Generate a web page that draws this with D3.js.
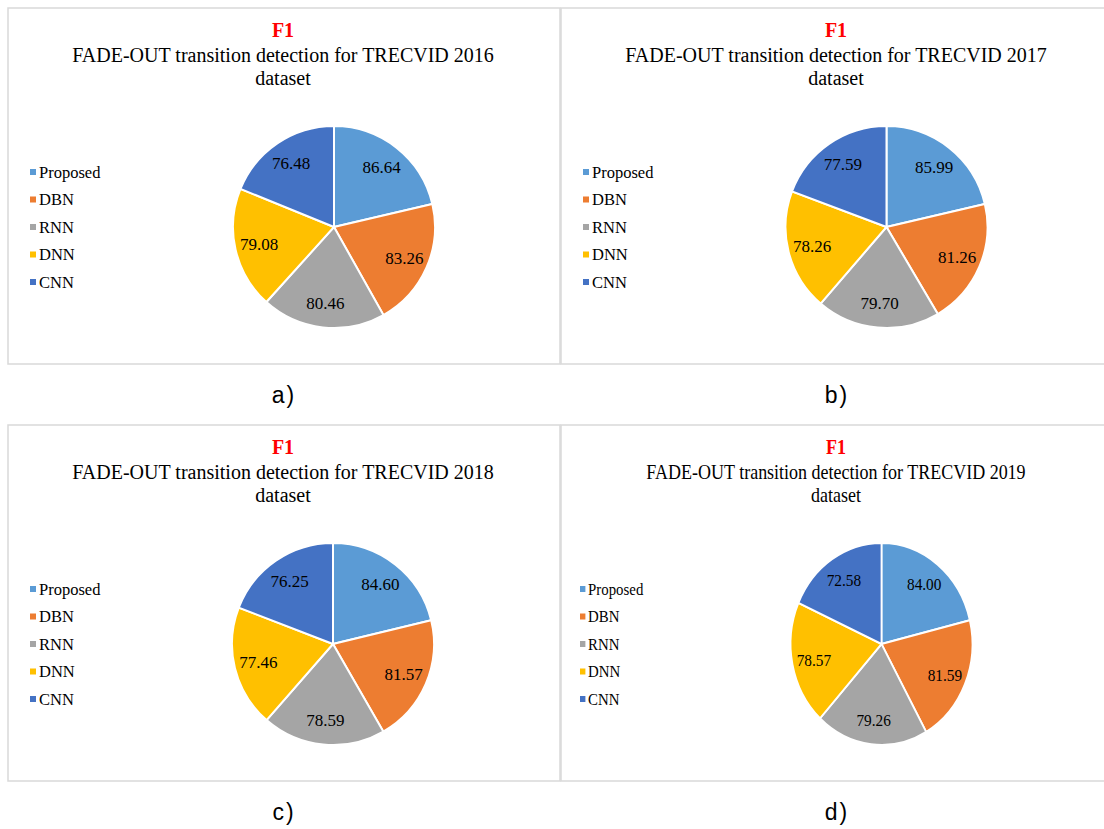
<!DOCTYPE html>
<html>
<head>
<meta charset="utf-8">
<script src="https://cdn.jsdelivr.net/npm/d3@7"></script>
<style>
  body { margin: 0; background: #fff; }
  svg { display: block; }
</style>
</head>
<body>
<div id="vis"></div>
<script>
// chart data
const CATEGORIES = ["Proposed", "DBN", "RNN", "DNN", "CNN"];
const YEARS = ["2016", "2017", "2018", "2019"];
const TAGS = ["a)", "b)", "c)", "d)"];
const F1_2016 = [86.64, 83.26, 80.46, 79.08, 76.48];
const F1_2017 = [85.99, 81.26, 79.70, 78.26, 77.59];
const F1_2018 = [84.60, 81.57, 78.59, 77.46, 76.25];
const F1_2019 = [84.00, 81.59, 79.26, 78.57, 72.58];
const SERIES = [F1_2016, F1_2017, F1_2018, F1_2019];

const WIDTH = 1104;
const HEIGHT = 829;
const PANEL_W = 552;
const PANEL_H = 356;
const RADIUS = 101;

const SERIF = "'Liberation Serif', 'Times New Roman', serif";
const SANS = "'Liberation Sans', Arial, sans-serif";

// panel boxes (left, top), horizontal squeeze for the last one
const PANELS = [
  {x: 8,   y: 8,   sx: 1,   pieX: 326},
  {x: 561, y: 8,   sx: 1,   pieX: 325.5},
  {x: 8,   y: 425, sx: 1,   pieX: 325},
  {x: 561, y: 425, sx: 0.9, pieX: 320.5}
];

const color = d3.scaleOrdinal()
  .domain(CATEGORIES)
  .range(["#5b9bd5", "#ed7d31", "#a5a5a5", "#ffc000", "#4472c4"]);

const fmt = d3.format(".2f");

const svg = d3.select("#vis")
  .append("svg")
    .attr("width", WIDTH)
    .attr("height", HEIGHT);

const pie = d3.pie().sort(null).value((d) => d.value);
const arc = d3.arc().innerRadius(0).outerRadius(RADIUS);
const labelArc = d3.arc().innerRadius(RADIUS * 0.76).outerRadius(RADIUS * 0.76);

PANELS.forEach((p, i) => {
  const data = CATEGORIES.map((c, k) => ({name: c, value: SERIES[i][k]}));
  const g = svg.append("g").attr("transform", `translate(${p.x},${p.y})`);

  // frame
  g.append("rect")
    .attr("x", 0).attr("y", 0)
    .attr("width", PANEL_W).attr("height", PANEL_H)
    .attr("fill", "none")
    .attr("stroke", "#d9d9d9")
    .attr("stroke-width", 1.5);

  // titles
  const tg = g.append("g")
    .attr("transform", `translate(${PANEL_W / 2 - 1},0) scale(${p.sx},1)`)
    .attr("text-anchor", "middle")
    .attr("font-family", SERIF);
  tg.append("text")
    .attr("y", 29)
    .attr("font-size", 20).attr("font-weight", "bold")
    .attr("fill", "#ff0000")
    .text("F1");
  tg.append("text")
    .attr("y", 54)
    .attr("font-size", 20).attr("fill", "#000")
    .text("FADE-OUT transition detection for TRECVID " + YEARS[i]);
  tg.append("text")
    .attr("y", 77)
    .attr("font-size", 20).attr("fill", "#000")
    .text("dataset");

  // pie
  const cy = 219;
  const pg = g.append("g")
    .attr("transform", `translate(${p.pieX},${cy}) scale(${p.sx},1)`);

  pg.selectAll("path.slice")
    .data(pie(data))
    .enter()
    .append("path")
      .attr("class", "slice")
      .attr("d", arc)
      .attr("fill", (d) => color(d.data.name))
      .attr("stroke", "#fff")
      .attr("stroke-width", 2);

  pg.selectAll("text.lbl")
    .data(pie(data))
    .enter()
    .append("text")
      .attr("class", "lbl")
      .attr("transform", (d) => `translate(${labelArc.centroid(d)})`)
      .attr("text-anchor", "middle")
      .attr("dy", "0.35em")
      .attr("font-family", SERIF)
      .attr("font-size", 17)
      .attr("fill", "#000")
      .text((d) => fmt(d.data.value));

  // legend
  const ly = d3.scalePoint().domain(CATEGORIES).range([cy - 55, cy + 55]);
  const lx = i === 3 ? 19 : 22;
  const lg = g.append("g")
    .attr("transform", `translate(${lx},0) scale(${p.sx},1)`);
  const item = lg.selectAll("g.item")
    .data(CATEGORIES)
    .enter()
    .append("g")
      .attr("class", "item")
      .attr("transform", (d) => `translate(0,${ly(d)})`);
  item.append("rect")
    .attr("x", 0).attr("y", -3)
    .attr("width", 6).attr("height", 6)
    .attr("fill", (d) => color(d));
  item.append("text")
    .attr("x", 9)
    .attr("dy", "0.35em")
    .attr("font-family", SERIF)
    .attr("font-size", 16.5)
    .attr("fill", "#000")
    .text((d) => d);

  // sub-figure tag under the panel
  svg.append("text")
    .attr("x", p.x + PANEL_W / 2)
    .attr("y", p.y + PANEL_H + 39)
    .attr("text-anchor", "middle")
    .attr("font-family", SANS)
    .attr("font-size", 23)
    .attr("letter-spacing", 2)
    .attr("fill", "#000")
    .text(TAGS[i]);
});
</script>
</body>
</html>
